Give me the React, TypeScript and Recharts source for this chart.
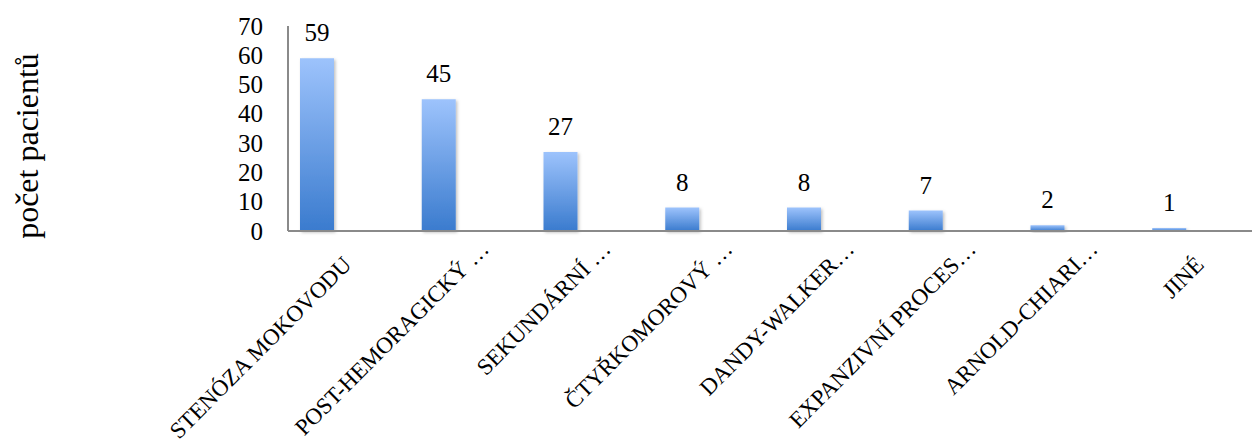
import React from "react";
import { BarChart, Bar, XAxis, YAxis, LabelList } from "recharts";

const categories = [
  "STENÓZA MOKOVODU",
  "POST-HEMORAGICKÝ …",
  "SEKUNDÁRNÍ …",
  "ČTYŘKOMOROVÝ …",
  "DANDY-WALKER…",
  "EXPANZIVNÍ PROCES…",
  "ARNOLD-CHIARI…",
  "JINÉ",
];
const values = [59, 45, 27, 8, 8, 7, 2, 1];
const yTicks = [0, 10, 20, 30, 40, 50, 60, 70];
const yTitle = "počet pacientů";

const data = categories.map((c, i) => ({ name: c, value: values[i], empty: null as number | null }));

const FONT = "'Liberation Serif', 'Times New Roman', serif";

const XTick = (props: any) => {
  const { x, y, payload } = props;
  const label: string = payload.value;
  const shift = label.endsWith("…") ? 22 : 0;
  const ax = x + 4;
  const ay = y + 35;
  return (
    <text
      transform={`translate(${ax},${ay}) rotate(-45)`}
      x={shift}
      y={0}
      textAnchor="end"
      fontFamily={FONT}
      fontSize={23}
      fill="#000"
    >
      {label}
    </text>
  );
};

const YTick = (props: any) => {
  const { x, y, payload } = props;
  return (
    <text x={x} y={y} textAnchor="end" dominantBaseline="central" fontFamily={FONT} fontSize={25} fill="#000">
      {payload.value}
    </text>
  );
};

const ValueLabel = (props: any) => {
  const { x, y, width, value } = props;
  if (value == null) return null;
  return (
    <text x={x + width / 2} y={y - 17} textAnchor="middle" fontFamily={FONT} fontSize={25} fill="#000">
      {value}
    </text>
  );
};

export default function App() {
  return (
    <div style={{ position: "absolute", left: 0, top: 0, width: 1252, height: 444, overflow: "hidden", background: "#fff" }}>
      <svg width={60} height={300} style={{ position: "absolute", left: 0, top: 0 }}>
        <text
          transform="translate(27,146) rotate(-90)"
          textAnchor="middle"
          dominantBaseline="central"
          fontFamily={FONT}
          fontSize={32}
          fill="#000"
        >
          {yTitle}
        </text>
      </svg>
      <div style={{ position: "absolute", left: 0, top: 0 }}>
        <BarChart
          width={1270}
          height={444}
          data={data}
          margin={{ top: 26, right: 8, bottom: 0, left: 228 }}
          barGap={30}
        >
          <defs>
            <linearGradient id="barGrad" x1="0" y1="0" x2="0" y2="1">
              <stop offset="0%" stopColor="#9DC3FC" />
              <stop offset="100%" stopColor="#3A7BCE" />
            </linearGradient>
            <filter id="barShadow" x="-20%" y="-20%" width="140%" height="140%">
              <feDropShadow dx="1.5" dy="1.5" stdDeviation="1.5" floodColor="#000" floodOpacity="0.25" />
            </filter>
          </defs>
          <XAxis
            dataKey="name"
            height={213}
            interval={0}
            tickLine={false}
            tickSize={0}
            tickMargin={0}
            axisLine={{ stroke: "#8a8a8a", strokeWidth: 2 }}
            tick={<XTick />}
          />
          <YAxis
            width={60}
            domain={[0, 70]}
            ticks={yTicks}
            interval={0}
            tickLine={false}
            tickSize={0}
            tickMargin={25}
            axisLine={{ stroke: "#8a8a8a", strokeWidth: 2 }}
            tick={<YTick />}
          />
          <Bar dataKey="value" barSize={34} fill="url(#barGrad)" filter="url(#barShadow)" isAnimationActive={false}>
            <LabelList dataKey="value" content={<ValueLabel />} />
          </Bar>
          <Bar dataKey="empty" barSize={34} fill="url(#barGrad)" isAnimationActive={false} />
        </BarChart>
      </div>
    </div>
  );
}
